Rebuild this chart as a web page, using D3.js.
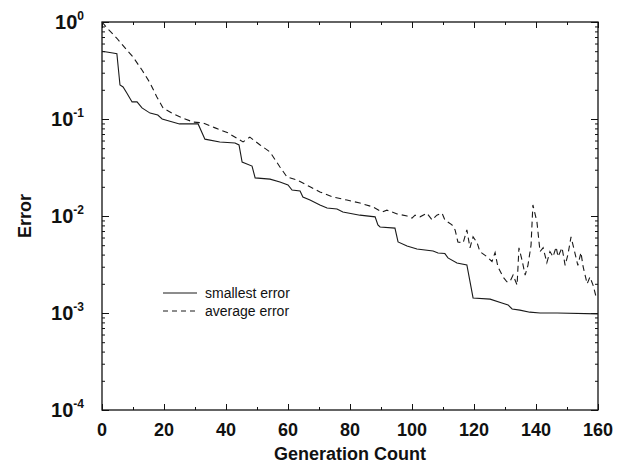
<!DOCTYPE html>
<html>
<head>
<meta charset="utf-8">
<script src="https://cdn.jsdelivr.net/npm/d3@7"></script>
<style>
  body { margin: 0; background: #fff; }
  svg text { font-family: "Liberation Sans", Arial, Helvetica, sans-serif; fill: #111; }
</style>
</head>
<body>
<svg id="chart" width="628" height="467"></svg>
<script>
"use strict";

// generation count / error
var smallestGen = [0, 3.5, 4.8, 5.8, 6.8, 8, 9.7, 11.3, 12.9, 15.5, 18, 19.4, 25, 31,
  33.2, 38, 42.9, 44.2, 45.2, 48.4, 49.4, 54.2, 57.4, 60, 61.3, 63.9, 64.8, 67.1,
  70.3, 72.6, 75.8, 77.7, 83.2, 88.1, 89, 89.7, 94.5, 95.5, 98.4, 101.6, 106.8,
  108.4, 110.6, 111.6, 114.5, 117.7, 119.7, 125.2, 129, 131, 132.3, 134.8, 138,
  141.3, 146.8, 160];
var smallestErr = [0.50, 0.48, 0.47, 0.224, 0.214, 0.185, 0.15, 0.15, 0.13, 0.115, 0.11, 0.10, 0.089, 0.089,
  0.062, 0.058, 0.0566, 0.054, 0.036, 0.0327, 0.0247, 0.024, 0.0224, 0.0209, 0.0185, 0.0181, 0.0157, 0.0146,
  0.013, 0.0121, 0.0118, 0.011, 0.0102, 0.0098, 0.0081, 0.0077, 0.0075, 0.0054, 0.0049, 0.00457, 0.00436,
  0.00416, 0.0041, 0.0037, 0.00327, 0.00313, 0.00143, 0.00139, 0.00127, 0.00121, 0.0011, 0.00107, 0.00102,
  0.0010, 0.0010, 0.00098];

var averageGen = [0, 1.6, 4.8, 8.1, 10, 12.9, 15.5, 17.7, 19.7, 22.6, 26.1, 29.4, 32.6, 36.5,
  40.6, 45.5, 47.7, 51, 54.2, 57.4, 59.7, 62.9, 67.1, 70.3, 74.5, 79, 83.2, 87.4,
  90.3, 91.9, 95.2, 98.4, 100, 101, 102.6, 104.8, 106.5, 108, 109.7, 110.6, 112.9, 113.9,
  114.8, 116.5, 117.7, 118.7, 119.7, 121, 121.9, 124.2, 125.8, 126.8, 127.7, 129.4, 130.6, 131.6,
  132.6, 133.9, 134.5, 135.5, 136.5, 137.4, 138.4, 139, 140.3, 141.3, 142.3, 143.5, 144.5, 145.5,
  146.5, 147.1, 148.4, 149.4, 150.3, 151.3, 152.3, 153.5, 154.5, 155.2, 156.5, 157.4, 158.4, 159.4];
var averageErr = [1.0, 0.87, 0.68, 0.51, 0.436, 0.32, 0.235, 0.169, 0.13, 0.115, 0.102, 0.093, 0.091, 0.081,
  0.072, 0.058, 0.065, 0.054, 0.0457, 0.032, 0.0252, 0.0235, 0.02, 0.0177, 0.0157, 0.0146, 0.0136, 0.0124,
  0.011, 0.0115, 0.0105, 0.0100, 0.0095, 0.0102, 0.0098, 0.0107, 0.0091, 0.0102, 0.0107, 0.0091, 0.0081, 0.0072,
  0.0054, 0.0053, 0.0072, 0.0047, 0.0061, 0.0053, 0.0043, 0.0038, 0.0034, 0.0042, 0.003, 0.00235, 0.0021, 0.0021,
  0.00246, 0.00194, 0.0047, 0.0035, 0.00246, 0.0031, 0.005, 0.013, 0.0087, 0.0043, 0.0047, 0.0033, 0.0043, 0.0038,
  0.0048, 0.0038, 0.0047, 0.0031, 0.004, 0.0061, 0.0045, 0.0031, 0.0042, 0.003, 0.002, 0.00235, 0.00194, 0.00146];

var xTicks = [0, 20, 40, 60, 80, 100, 120, 140, 160];
var xMinorTicks = [10, 30, 50, 70, 90, 110, 130, 150];
var yExponents = [0, -1, -2, -3, -4];
var legendLabels = ["smallest error", "average error"];

var margin = { left: 102, right: 30, top: 22, bottom: 57 };
var width = 628, height = 467;

var svg = d3.select('#chart');

var x = d3.scaleLinear().domain([0, 160]).range([margin.left, width - margin.right]);
var y = d3.scaleLog().domain([1e-4, 1]).range([height - margin.bottom, margin.top]);

var yMinor = [];
yExponents.slice(1).forEach(function(e) {
  for (var k = 2; k <= 9; k++) yMinor.push(k * Math.pow(10, e));
});

function tickAxis(axis, scale, vals, size, tx) {
  var g = svg.append('g')
    .attr('transform', tx)
    .call(axis(scale).tickValues(vals).tickSize(size).tickFormat(''));
  g.select('.domain').remove();
  g.selectAll('.tick line').attr('stroke', '#111').attr('stroke-width', 1);
  return g;
}

var x0 = x.range()[0], x1 = x.range()[1];
var y0 = y.range()[0], y1 = y.range()[1];

// ticks, pointing inward
tickAxis(d3.axisBottom, x, xTicks, -6, 'translate(0,' + y0 + ')');
tickAxis(d3.axisBottom, x, xMinorTicks, -3, 'translate(0,' + y0 + ')');
tickAxis(d3.axisTop, x, xTicks, -6, 'translate(0,' + y1 + ')');
tickAxis(d3.axisTop, x, xMinorTicks, -3, 'translate(0,' + y1 + ')');
var yMajorVals = yExponents.map(function(e) { return Math.pow(10, e); });
tickAxis(d3.axisLeft, y, yMajorVals, -7, 'translate(' + x0 + ',0)');
tickAxis(d3.axisLeft, y, yMinor, -3, 'translate(' + x0 + ',0)');
tickAxis(d3.axisRight, y, yMajorVals, -7, 'translate(' + x1 + ',0)');
tickAxis(d3.axisRight, y, yMinor, -3, 'translate(' + x1 + ',0)');

// frame
svg.append('rect')
  .attr('x', x0).attr('y', y1)
  .attr('width', x1 - x0).attr('height', y0 - y1)
  .attr('fill', 'none').attr('stroke', '#111').attr('stroke-width', 1.3);

// x tick labels
svg.append('g').selectAll('text')
  .data(xTicks).enter().append('text')
  .attr('x', function(d) { return x(d); })
  .attr('y', y0 + 26)
  .attr('text-anchor', 'middle')
  .style('font-size', '18px').style('font-weight', 'bold')
  .text(function(d) { return d; });

// y tick labels 10^e
var yl = svg.append('g').selectAll('text')
  .data(yExponents).enter().append('text')
  .attr('x', x0 - 18)
  .attr('y', function(d) { return y(Math.pow(10, d)) + 7; })
  .attr('text-anchor', 'end')
  .style('font-size', '20px').style('font-weight', 'bold');
yl.append('tspan').text('10');
yl.append('tspan')
  .attr('dy', -9)
  .style('font-size', '12px')
  .text(function(d) { return d; });

// axis titles
svg.append('text')
  .attr('x', (x0 + x1) / 2).attr('y', 460)
  .attr('text-anchor', 'middle')
  .style('font-size', '18px').style('font-weight', 'bold')
  .text('Generation Count');

svg.append('text')
  .attr('transform', 'translate(31,' + ((y0 + y1) / 2) + ') rotate(-90)')
  .attr('text-anchor', 'middle')
  .style('font-size', '18px').style('font-weight', 'bold')
  .text('Error');

// lines
var line = d3.line()
  .x(function(d) { return x(d[0]); })
  .y(function(d) { return y(d[1]); });

var smallest = d3.zip(smallestGen, smallestErr);
var average = d3.zip(averageGen, averageErr);

svg.append('path')
  .datum(smallest)
  .attr('d', line)
  .attr('fill', 'none').attr('stroke', '#1a1a1a').attr('stroke-width', 1.1);

svg.append('path')
  .datum(average)
  .attr('d', line)
  .attr('fill', 'none').attr('stroke', '#1a1a1a').attr('stroke-width', 1.1)
  .attr('stroke-dasharray', '6,4');

// legend
var legend = svg.append('g').attr('transform', 'translate(163,293)');
legend.selectAll('line')
  .data(legendLabels).enter().append('line')
  .attr('x1', 0).attr('x2', 34)
  .attr('y1', function(d, i) { return i * 18; })
  .attr('y2', function(d, i) { return i * 18; })
  .attr('stroke', '#1a1a1a').attr('stroke-width', 1)
  .attr('stroke-dasharray', function(d, i) { return i ? '5,4' : null; });
legend.selectAll('text')
  .data(legendLabels).enter().append('text')
  .attr('x', 42)
  .attr('y', function(d, i) { return i * 18 + 5; })
  .style('font-size', '14px')
  .text(function(d) { return d; });
</script>
</body>
</html>
